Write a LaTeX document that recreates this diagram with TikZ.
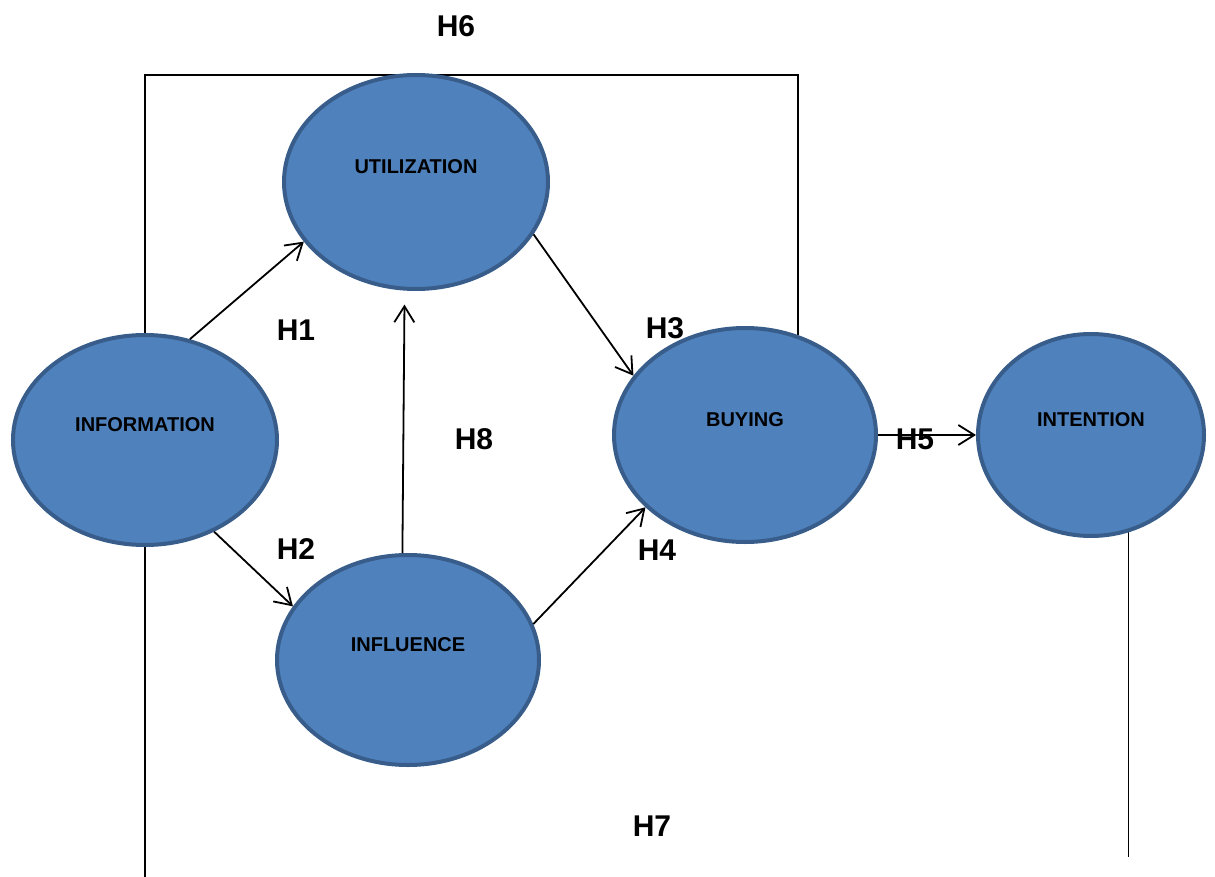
\documentclass[tikz,border=0pt]{standalone}
\usepackage{fontspec}
\setmainfont{Liberation Sans}
\usetikzlibrary{shapes.geometric,arrows.meta,backgrounds}
\definecolor{ellfill}{HTML}{4F81BD}
\definecolor{elldraw}{HTML}{385D8A}
\tikzset{
  construct/.style={ellipse, fill=ellfill, draw=elldraw, line width=2pt, inner sep=0pt},
  ctext/.style={font=\bfseries\fontsize{10}{12}\selectfont, text=black},
  hyp/.style={font=\bfseries\fontsize{15}{18}\selectfont, text=black},
  link/.style={line width=0.9pt, -{Straight Barb[length=8pt,width=10pt,line width=0.9pt]}},
  plain/.style={line width=0.9pt}
}
\begin{document}
\begin{tikzpicture}[x=0.5pt,y=-0.5pt]
\useasboundingbox (0,0) rectangle (1215,877);
\node[construct, minimum width=132pt, minimum height=105pt,
  label={[ctext, yshift=7.5pt]center:INFORMATION}] (info) at (145,440) {};
\node[construct, minimum width=132pt, minimum height=107pt,
  label={[ctext, yshift=7.5pt]center:UTILIZATION}] (util) at (416,182) {};
\node[construct, minimum width=131pt, minimum height=105pt,
  label={[ctext, yshift=7.5pt]center:INFLUENCE}] (infl) at (408,660) {};
\node[construct, minimum width=131pt, minimum height=107pt,
  label={[ctext, yshift=7.5pt]center:BUYING}] (buy) at (745,435) {};
\node[construct, minimum width=113pt, minimum height=101pt,
  label={[ctext, yshift=7.5pt]center:INTENTION}] (int) at (1091,435) {};

\coordinate (top) at (0,75);
\coordinate (botL) at (0,877);
\coordinate (botR) at (0,857);

\begin{scope}[on background layer]
% H6 bracket
\draw[plain] (info.north) -- (info.north |- top) -- (buy.62 |- top) -- (buy.62);
% H7 lines
\draw[plain] (info.south) -- (info.south |- botL);
\draw[plain] (int.291) -- (int.291 |- botR);
\end{scope}

% arrows
\draw[link] (info.66) -- (util.208);
\draw[link] (info.307) -- (infl.155);
\draw[link, shorten >=7pt] (infl.93) -- (util.264);
\draw[link] (util.336) -- (buy.152);
\draw[link] (infl.16) -- (buy.216);
\draw[link] (buy.east) -- (int.west);

% labels
\node[hyp] (h6) at (456,26) {H6};
\node[hyp] (h1) at (296,330) {H1};
\node[hyp] (h8) at (474,439) {H8};
\node[hyp] (h3) at (665,328) {H3};
\node[hyp] (h2) at (296,549) {H2};
\node[hyp] (h4) at (657,550) {H4};
\node[hyp] (h5) at (915,439) {H5};
\node[hyp] (h7) at (652,826) {H7};
\end{tikzpicture}
\end{document}
